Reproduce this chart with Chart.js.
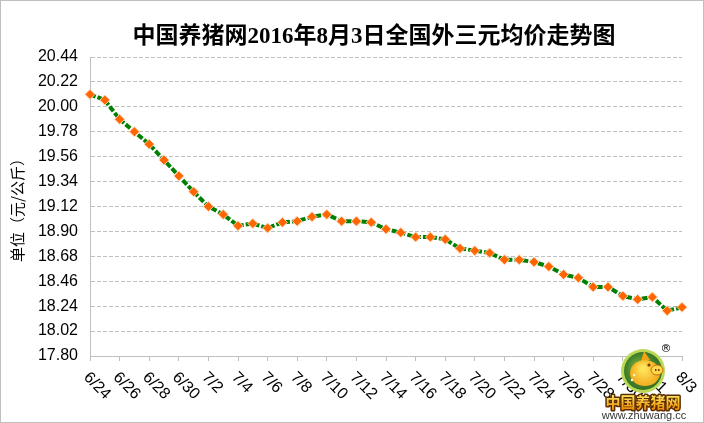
<!DOCTYPE html>
<html lang="zh-CN">
<head>
<meta charset="utf-8">
<title>中国养猪网2016年8月3日全国外三元均价走势图</title>
<script src="https://cdn.jsdelivr.net/npm/chart.js@4.4.1/dist/chart.umd.min.js"></script>
<style>
  html, body { margin: 0; padding: 0; background: #fff; }
  canvas { display: block; }
</style>
</head>
<body>
<canvas id="price-chart" width="704" height="423"></canvas>
<script>
// --- Chart data ---
const chartTitle = '中国养猪网2016年8月3日全国外三元均价走势图';
const yAxisTitle = '单位（元/公斤）';

const dates = [
    '6/24', '6/25', '6/26', '6/27', '6/28', '6/29', '6/30',
    '7/1', '7/2', '7/3', '7/4', '7/5', '7/6', '7/7', '7/8', '7/9', '7/10',
    '7/11', '7/12', '7/13', '7/14', '7/15', '7/16', '7/17', '7/18', '7/19', '7/20',
    '7/21', '7/22', '7/23', '7/24', '7/25', '7/26', '7/27', '7/28', '7/29', '7/30',
    '7/31', '8/1', '8/2', '8/3'
];

const prices = [
    20.11, 20.06, 19.89, 19.78, 19.67, 19.53, 19.39,
    19.25, 19.12, 19.05, 18.95, 18.97, 18.93, 18.98, 18.99, 19.03, 19.05,
    18.99, 18.99, 18.98, 18.92, 18.89, 18.85, 18.85, 18.83, 18.75, 18.73,
    18.71, 18.65, 18.65, 18.63, 18.59, 18.52, 18.49, 18.41, 18.41, 18.33,
    18.30, 18.32, 18.20, 18.23
];

// every second day gets a label on the x axis
const xTickLabels = [
    '6/24', '6/26', '6/28', '6/30', '7/2', '7/4', '7/6', '7/8', '7/10', '7/12', '7/14',
    '7/16', '7/18', '7/20', '7/22', '7/24', '7/26', '7/28', '7/30', '8/1', '8/3'
];

const yTickValues = [
    17.80, 18.02, 18.24, 18.46, 18.68, 18.90, 19.12,
    19.34, 19.56, 19.78, 20.00, 20.22, 20.44
];

const logoName = '中国养猪网';
const logoUrl = 'www.zhuwang.cc';

// --- Small drawing helpers ---
function drawTitle(ctx) {
    ctx.save();
    ctx.font = 'bold 23px "Liberation Serif", "Noto Sans CJK SC"';
    ctx.fillStyle = '#000';
    ctx.textAlign = 'center';
    ctx.textBaseline = 'middle';
    ctx.fillText(chartTitle, 374, 37);
    ctx.restore();
}

function drawXLabels(chart) {
    const ctx = chart.ctx;
    const xScale = chart.scales.x;
    const top = chart.chartArea.bottom;
    ctx.save();
    ctx.font = '16px "Liberation Sans"';
    ctx.fillStyle = '#000';
    ctx.textAlign = 'left';
    ctx.textBaseline = 'middle';
    xTickLabels.forEach(label => {
        const idx = dates.indexOf(label);
        if (idx < 0) return;
        const px = xScale.getPixelForValue(idx);
        ctx.save();
        ctx.translate(px - 4, top + 19);
        ctx.rotate(Math.PI / 4);
        ctx.fillText(label, 0, 0);
        ctx.restore();
    });
    ctx.restore();
}

function drawLogo(ctx) {
    const cx = 643, cy = 371, r = 22;
    ctx.save();

    // green badge
    ctx.beginPath();
    ctx.arc(cx, cy, r, 0, Math.PI * 2);
    ctx.fillStyle = '#b9d957';
    ctx.fill();
    ctx.beginPath();
    ctx.arc(cx, cy, r - 3, 0, Math.PI * 2);
    const inner = ctx.createRadialGradient(cx - 6, cy - 6, 2, cx, cy, r);
    inner.addColorStop(0, '#6aa83a');
    inner.addColorStop(1, '#2e6a22');
    ctx.fillStyle = inner;
    ctx.fill();

    // the pig
    ctx.beginPath();
    ctx.moveTo(cx - 2, cy - 10);
    ctx.lineTo(cx + 1, cy - 20);
    ctx.lineTo(cx + 7, cy - 11);
    ctx.closePath();
    ctx.fillStyle = '#f2a316';
    ctx.fill();
    ctx.beginPath();
    ctx.ellipse(cx + 2, cy + 2, 15, 13, 0, 0, Math.PI * 2);
    const body = ctx.createRadialGradient(cx, cy - 3, 2, cx + 2, cy + 2, 16);
    body.addColorStop(0, '#ffe45a');
    body.addColorStop(1, '#f2a316');
    ctx.fillStyle = body;
    ctx.fill();
    ctx.beginPath();
    ctx.ellipse(cx + 14, cy - 1, 6, 5, 0, 0, Math.PI * 2);
    ctx.fillStyle = '#ffd84a';
    ctx.fill();
    ctx.strokeStyle = '#c86a10';
    ctx.lineWidth = 1;
    ctx.stroke();
    ctx.fillStyle = '#7a3a00';
    ctx.fillRect(cx + 12, cy - 2, 1.5, 2);
    ctx.fillRect(cx + 15, cy - 2, 1.5, 2);
    ctx.beginPath();
    ctx.arc(cx + 6, cy - 6, 1.6, 0, Math.PI * 2);
    ctx.fill();
    ctx.fillStyle = '#fff7c0';
    ctx.beginPath();
    ctx.arc(cx - 9, cy + 4, 1.3, 0, Math.PI * 2);
    ctx.arc(cx - 11, cy + 9, 1.3, 0, Math.PI * 2);
    ctx.fill();

    // registered mark
    ctx.fillStyle = '#000';
    ctx.font = '11px "DejaVu Sans"';
    ctx.textAlign = 'center';
    ctx.textBaseline = 'middle';
    ctx.fillText('®', 666, 349);

    // brand text
    ctx.font = 'bold 15px "Noto Sans CJK SC"';
    ctx.lineJoin = 'round';
    ctx.lineWidth = 3;
    ctx.strokeStyle = '#5a2c00';
    ctx.strokeText(logoName, cx, 402);
    const gold = ctx.createLinearGradient(0, 394, 0, 410);
    gold.addColorStop(0, '#fff06a');
    gold.addColorStop(1, '#f08a00');
    ctx.fillStyle = gold;
    ctx.fillText(logoName, cx, 402);

    ctx.font = '11px "Liberation Sans"';
    ctx.fillStyle = '#333';
    ctx.fillText(logoUrl, cx + 1, 416);
    ctx.restore();
}

// --- Plugin for background, title, rotated labels, frame and logo ---
const decorPlugin = {
    id: 'decor',
    beforeDraw(chart) {
        const ctx = chart.ctx;
        ctx.save();
        ctx.fillStyle = '#fff';
        ctx.fillRect(0, 0, chart.width, chart.height);
        ctx.restore();
    },
    afterDraw(chart) {
        const ctx = chart.ctx;
        drawTitle(ctx);
        drawXLabels(chart);
        ctx.save();
        ctx.strokeStyle = '#bfbfbf';
        ctx.lineWidth = 1;
        ctx.strokeRect(0.5, 0.5, chart.width - 1, chart.height - 1);
        ctx.restore();
        drawLogo(ctx);
    }
};

// --- Build the chart ---
function buildPriceChart() {
    const ctx = document.getElementById('price-chart').getContext('2d');

    new Chart(ctx, {
        type: 'line',
        data: {
            labels: dates,
            datasets: [{
                label: '外三元均价',
                data: prices,
                borderColor: '#008000',
                borderWidth: 4,
                borderDash: [6, 2],
                tension: 0,
                fill: false,
                pointStyle: 'rectRot',
                pointRadius: 5,
                pointBackgroundColor: '#ff6600',
                pointBorderColor: '#ffd2b4',
                pointBorderWidth: 1,
                clip: false
            }]
        },
        options: {
            responsive: false,
            animation: false,
            devicePixelRatio: 1,
            layout: {
                padding: { top: 57, right: 22, bottom: 0, left: 0 }
            },
            plugins: {
                legend: { display: false },
                title: { display: false },
                tooltip: { enabled: false }
            },
            scales: {
                x: {
                    type: 'category',
                    offset: false,
                    afterFit: (scale) => { scale.height = 67; },
                    ticks: { display: false },
                    grid: {
                        drawOnChartArea: false,
                        drawTicks: true,
                        tickLength: 5,
                        color: (c) => (c.index % 2 === 0 ? '#bfbfbf' : 'rgba(0,0,0,0)')
                    },
                    border: { display: true, color: '#bfbfbf', width: 1 }
                },
                y: {
                    min: 17.80,
                    max: 20.44,
                    afterBuildTicks: (scale) => {
                        scale.ticks = yTickValues.map(v => ({ value: v }));
                    },
                    afterFit: (scale) => { scale.width = 90; },
                    ticks: {
                        padding: 12,
                        color: '#000',
                        font: { family: 'Liberation Sans', size: 16 },
                        callback: (value) => Number(value).toFixed(2)
                    },
                    grid: {
                        color: '#c0c0c0',
                        lineWidth: 1,
                        drawTicks: false
                    },
                    border: { display: true, color: '#bfbfbf', width: 1, dash: [4, 2] },
                    title: {
                        display: true,
                        text: yAxisTitle,
                        color: '#000',
                        font: { family: 'Noto Sans CJK SC', size: 15 },
                        padding: { top: 8, bottom: 0 }
                    }
                }
            }
        },
        plugins: [decorPlugin]
    });
}

document.addEventListener('DOMContentLoaded', buildPriceChart);
</script>
</body>
</html>
